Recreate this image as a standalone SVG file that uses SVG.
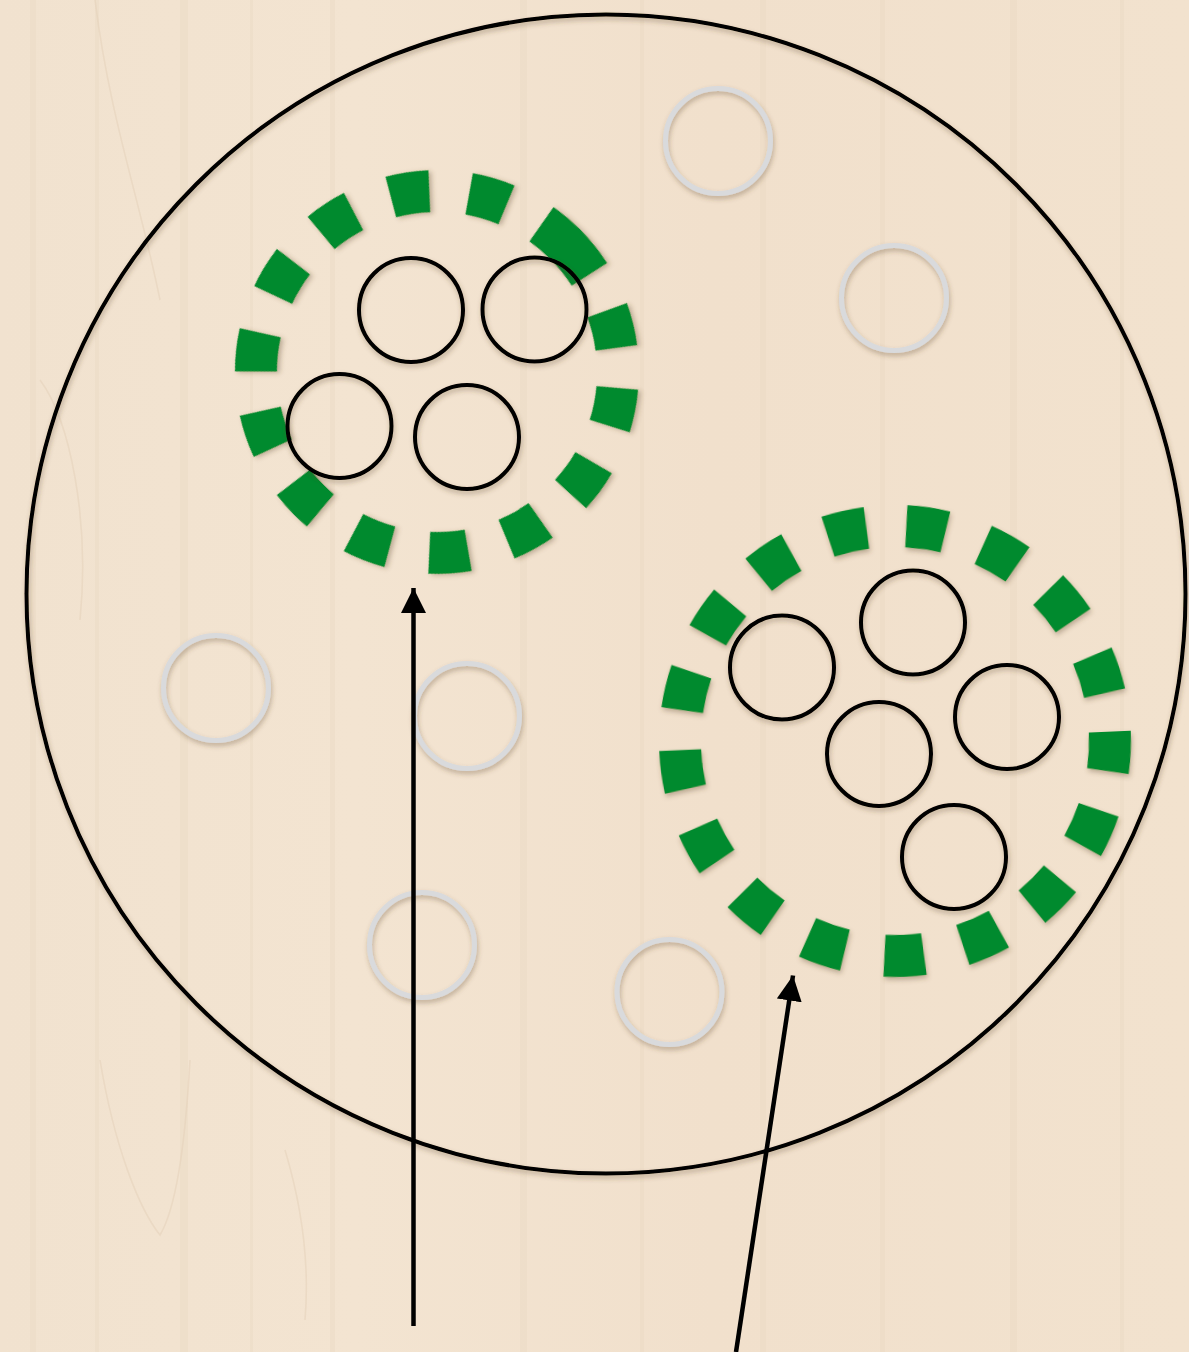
<svg xmlns="http://www.w3.org/2000/svg" width="1189" height="1352" viewBox="0 0 1189 1352">
  <defs>
    <filter id="shadow" x="-20%" y="-20%" width="140%" height="140%">
      <feDropShadow dx="1" dy="3" stdDeviation="2.5" flood-color="#5a4025" flood-opacity="0.35"/>
    </filter>
    <linearGradient id="wood" x1="0" y1="0" x2="1" y2="0">
      <stop offset="0" stop-color="#f1e2cf"/>
      <stop offset="0.3" stop-color="#f3e4d1"/>
      <stop offset="0.6" stop-color="#f1e0cc"/>
      <stop offset="1" stop-color="#f2e2ce"/>
    </linearGradient>
    <marker id="arrow" viewBox="0 0 10 10" refX="10" refY="5" markerWidth="5.6" markerHeight="5.6" markerUnits="strokeWidth" orient="auto">
      <path d="M0,0 L10,5 L0,10 z" fill="#000"/>
    </marker>
    <style>
      .big { fill: none; stroke: #000; stroke-width: 4; }
      .gray { fill: none; stroke: #d9dadc; stroke-width: 5; }
      .black { fill: none; stroke: #000; stroke-width: 4; }
      .group { fill: none; stroke: #008a2e; stroke-width: 42; }
      .grain { fill: none; stroke: #e3cfb8; stroke-width: 1.5; opacity: 0.5; }
      .streak { fill: #e8d6c0; opacity: 0.35; }
      .conn { fill: none; stroke: #000; stroke-width: 4.5; marker-end: url(#arrow); }
    </style>
  </defs>

  <!-- wood background -->
  <rect x="0" y="0" width="1189" height="1352" fill="url(#wood)"/>
  <g id="wood-grain">
    <rect class="streak" x="30" y="0" width="6" height="1352"/>
    <rect class="streak" x="95" y="0" width="4" height="1352"/>
    <rect class="streak" x="180" y="0" width="8" height="1352"/>
    <rect class="streak" x="250" y="0" width="3" height="1352"/>
    <rect class="streak" x="330" y="0" width="5" height="1352"/>
    <rect class="streak" x="520" y="0" width="7" height="1352"/>
    <rect class="streak" x="640" y="0" width="4" height="1352"/>
    <rect class="streak" x="760" y="0" width="6" height="1352"/>
    <rect class="streak" x="880" y="0" width="5" height="1352"/>
    <rect class="streak" x="1010" y="0" width="7" height="1352"/>
    <rect class="streak" x="1120" y="0" width="4" height="1352"/>
    <path class="grain" d="M95,0 C110,120 140,200 160,300"/>
    <path class="grain" d="M100,1060 C115,1150 140,1210 160,1235 C175,1210 185,1150 190,1060"/>
    <path class="grain" d="M285,1150 C300,1200 310,1260 305,1320"/>
    <path class="grain" d="M40,380 C70,420 90,520 80,620"/>
  </g>

  <!-- outer boundary -->
  <g id="boundary">
    <circle class="big" cx="606" cy="594" r="579.5" filter="url(#shadow)"/>
  </g>

  <!-- grey free circles -->
  <g id="free-1"><circle class="gray" cx="718" cy="141" r="52.5" filter="url(#shadow)"/></g>
  <g id="free-2"><circle class="gray" cx="894" cy="298" r="52.5" filter="url(#shadow)"/></g>
  <g id="free-3"><circle class="gray" cx="216" cy="688" r="52.5" filter="url(#shadow)"/></g>
  <g id="free-4"><circle class="gray" cx="467" cy="716" r="52.5" filter="url(#shadow)"/></g>
  <g id="free-5"><circle class="gray" cx="422" cy="945" r="52.5" filter="url(#shadow)"/></g>
  <g id="free-6"><circle class="gray" cx="669.5" cy="992" r="52.5" filter="url(#shadow)"/></g>

  <!-- cluster 1 -->
  <g id="cluster-1">
    <circle class="group" cx="437" cy="372" r="181" stroke-dasharray="39 40" transform="rotate(315 437 372)" filter="url(#shadow)"/>
    <circle class="black" cx="411" cy="310" r="52" filter="url(#shadow)"/>
    <circle class="black" cx="534.5" cy="309.5" r="52" filter="url(#shadow)"/>
    <circle class="black" cx="339.5" cy="426" r="52" filter="url(#shadow)"/>
    <circle class="black" cx="467" cy="437" r="52" filter="url(#shadow)"/>
  </g>

  <!-- cluster 2 -->
  <g id="cluster-2">
    <circle class="group" cx="895" cy="741" r="215" stroke-dasharray="39.5 40" transform="rotate(-2.5 895 741)" filter="url(#shadow)"/>
    <circle class="black" cx="782" cy="667.5" r="52" filter="url(#shadow)"/>
    <circle class="black" cx="913" cy="622.5" r="52" filter="url(#shadow)"/>
    <circle class="black" cx="1007" cy="717" r="52" filter="url(#shadow)"/>
    <circle class="black" cx="879" cy="754" r="52" filter="url(#shadow)"/>
    <circle class="black" cx="954" cy="857" r="52" filter="url(#shadow)"/>
  </g>

  <!-- connectors -->
  <g id="connectors">
    <line class="conn" x1="413.5" y1="1326" x2="413.5" y2="588"/>
    <line class="conn" x1="736" y1="1352" x2="793" y2="975.5"/>
  </g>
</svg>
